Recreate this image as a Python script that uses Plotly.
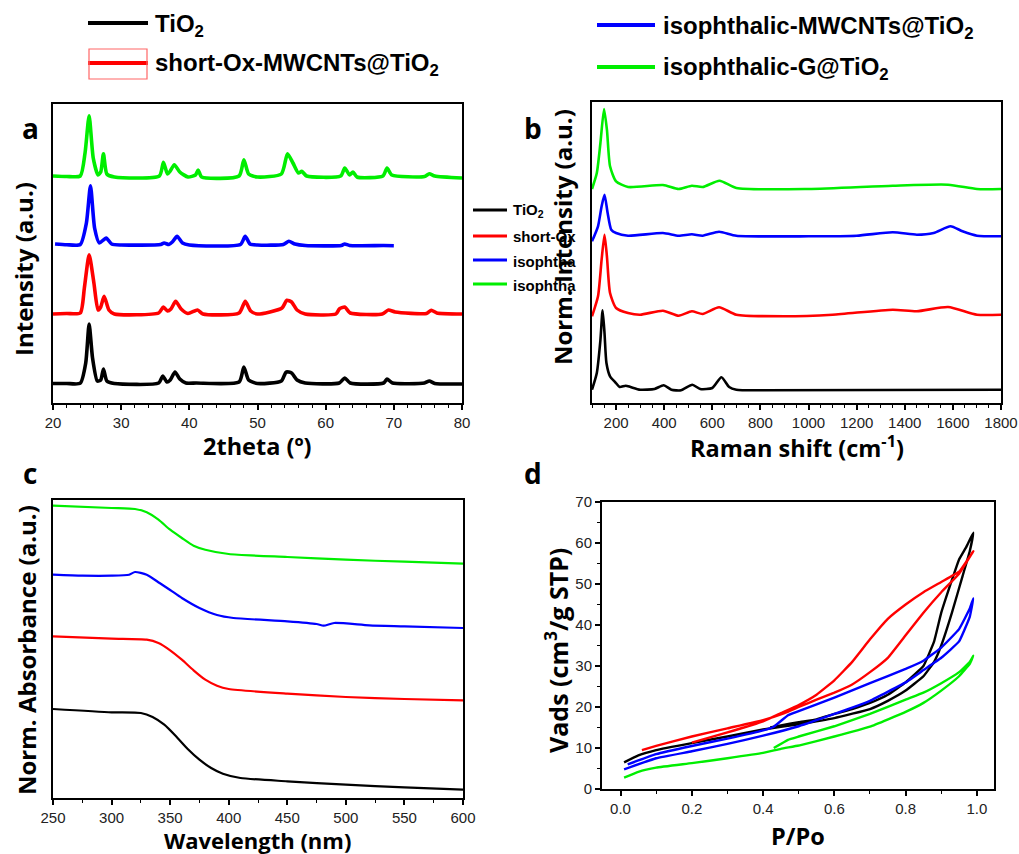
import plotly.graph_objects as go

W, H = 1019, 854

# ---------------- (a) XRD ----------------
xrd_x_black = [20, 22, 24, 24.8, 25.3, 25.8, 26.5, 27.0, 27.4, 27.9, 29, 35.5, 36.1, 36.7, 37.2, 37.9, 38.6, 39.5,
               41, 47.3, 48.0, 48.7, 50, 53.5, 54.2, 55.0, 55.8, 57, 62, 62.8, 63.6, 68.5, 69.0, 69.8, 74.5, 75.2, 76, 80]
xrd_y_black = [19.5, 19.5, 19.8, 40, 79, 45, 22, 23, 34, 22, 19.5, 20, 27, 21, 23, 31, 24, 20,
               20, 21, 36, 23, 19.5, 22, 31, 30, 23, 20, 20, 25, 20, 20, 24, 20, 20, 22, 19.5, 19]

xrd_x_red = [20, 22, 24, 24.6, 25.3, 26.0, 26.6, 27.0, 27.5, 28.2, 29, 35.5, 36.2, 36.8, 37.3, 38.0, 38.8, 39.8,
             41.2, 42, 47.3, 48.2, 49.0, 50, 53.6, 54.3, 55.0, 55.8, 57, 61.5, 62.0, 62.8, 63.6, 68.3, 69.2, 70.2,
             74.8, 75.5, 76.3, 80]
xrd_y_red = [89, 89.5, 90, 115, 148.3, 120, 93, 96, 106.7, 93, 89, 90, 96, 92, 94, 101.7, 94, 89.5,
             93, 89, 90, 101.7, 92, 89, 95, 102.7, 101, 93, 89, 89, 94, 96, 90, 89, 93, 91,
             89.5, 92.7, 90, 89]

xrd_x_blue = [20.3, 22, 24, 24.9, 25.5, 26.1, 26.8, 27.8, 28.6, 30, 35.8, 36.3, 37.0, 37.5, 38.2, 39.0, 40,
              47.5, 48.2, 48.9, 50, 53.8, 54.6, 55.5, 57, 62.3, 62.8, 63.5, 68.5, 70]
xrd_y_blue = [159, 158.3, 158.5, 180, 217.3, 175, 160, 165, 159, 158, 158.5, 160, 158.5, 161, 166.7, 160, 158,
              158.5, 166.7, 159, 158, 158.5, 161.7, 159, 157.5, 157.5, 159, 157.5, 157.5, 157.3]

xrd_x_green = [20, 22, 24, 24.7, 25.3, 25.9, 26.6, 27.0, 27.4, 27.9, 29, 35.6, 36.2, 36.8, 37.2, 37.8, 38.6, 39.8,
               40.9, 41.3, 41.8, 47.3, 48.0, 48.7, 50, 53.5, 54.4, 55.2, 56.0, 56.5, 57.2, 62.2, 62.8, 63.5, 64.0,
               64.6, 68.4, 69.0, 69.7, 74.5, 75.2, 76, 80]
xrd_y_green = [227, 226.5, 227, 250, 287.3, 245, 228, 231, 249.3, 229, 226, 227, 240.7, 229, 232, 238.3, 231, 226,
               228, 233, 226, 227, 243.3, 229, 226, 229, 249.3, 240, 230, 231.7, 227, 227, 235, 228, 231,
               226, 227, 235, 228, 226.5, 229.3, 227, 225]

# ---------------- (b) Raman ----------------
ram_x_black = [100, 120, 135, 144, 152, 160, 175, 197, 215, 240, 260, 300, 360, 398, 430, 470, 517, 550, 600, 638,
               670, 700, 800, 1800]
ram_y_black = [13.3, 30, 63, 92.7, 70, 40, 26.7, 20.7, 16, 17.3, 16, 13.3, 14, 17.7, 13.3, 12.7, 18.3, 14, 15,
               25.7, 16, 13.3, 12.7, 13.3]

ram_x_red = [100, 125, 140, 152, 162, 175, 200, 250, 300, 395, 460, 515, 560, 628, 700, 900, 1100, 1350, 1450,
             1580, 1700, 1800]
ram_y_red = [86.7, 106.7, 143.3, 168.3, 146.7, 110, 95, 90, 88.3, 92.3, 87.3, 91.7, 89, 95.7, 88.3, 86.7, 88.3,
             93.3, 91.7, 96, 88.3, 88.3]

ram_x_blue = [100, 125, 140, 152, 165, 180, 200, 250, 395, 460, 515, 560, 628, 700, 1000, 1200, 1350, 1450, 1520,
              1590, 1640, 1700, 1800]
ram_y_blue = [161.7, 176.7, 196.7, 208.3, 190, 173.3, 170, 167.3, 170, 167.3, 168.7, 167.3, 171.3, 167.3, 166.7,
              167.3, 170.7, 168.3, 170, 176.7, 171.7, 167.3, 166.7]

ram_x_green = [100, 120, 135, 150, 162, 175, 200, 250, 395, 460, 515, 560, 630, 700, 1000, 1350, 1580, 1700, 1800]
ram_y_green = [214, 230, 260, 294, 273.3, 236.7, 221.7, 216, 218, 214, 217.3, 216, 222.3, 215, 214, 217.3, 218.3,
               214, 214]

# ---------------- (c) UV-vis ----------------
uv_x_black = [250, 300, 325, 335, 345, 355, 365, 375, 385, 395, 410, 450, 500, 550, 600]
uv_y_black = [89, 85.7, 85, 81, 73.3, 61.7, 49, 38.3, 30, 24.3, 20, 16.7, 13.3, 10.7, 8.3]

uv_x_red = [250, 300, 330, 340, 350, 360, 370, 380, 390, 400, 450, 500, 550, 600]
uv_y_red = [161.7, 159.3, 158.3, 155, 147.7, 138.3, 127.7, 118.3, 112.3, 109, 104.3, 101, 99, 97.7]

uv_x_blue = [250, 275, 300, 315, 320, 330, 341, 350, 360, 375, 390, 404, 450, 475, 481, 490, 520, 550, 600]
uv_y_blue = [223.3, 222.3, 222.3, 223.3, 226, 223.3, 215, 208, 200, 190, 183, 180, 176.7, 174, 172.3, 175, 172.7,
             171.7, 170]

uv_x_green = [250, 300, 320, 330, 340, 350, 360, 370, 380, 400, 450, 500, 550, 600]
uv_y_green = [292.3, 290, 289, 285.7, 278.3, 268.3, 260, 252.3, 248.3, 244, 241, 238.3, 236.3, 234.3]

# ---------------- (d) N2 isotherms ----------------
bet_x_black = [0.01, 0.05, 0.1, 0.2, 0.3, 0.4, 0.5, 0.6, 0.7, 0.75, 0.8, 0.85, 0.88, 0.9, 0.93, 0.96, 0.98, 0.99,
               0.97, 0.95, 0.93, 0.9, 0.88, 0.85, 0.8, 0.75, 0.7, 0.65, 0.6, 0.55, 0.5, 0.45, 0.42]
bet_y_black = [6.5, 8.2, 9.5, 11.2, 12.8, 14.5, 15.8, 17.3, 19.5, 21.5, 24, 27.5, 31, 35, 43, 52, 58, 62.5,
               59, 56, 51, 43, 36, 30, 26, 23, 21, 19.5, 18.3, 17, 16.3, 15.5, 15]

bet_x_red = [0.06, 0.1, 0.2, 0.3, 0.4, 0.46, 0.5, 0.55, 0.6, 0.65, 0.7, 0.75, 0.8, 0.85, 0.9, 0.95, 0.99,
             0.95, 0.9, 0.85, 0.8, 0.75, 0.7, 0.65, 0.6, 0.55, 0.5, 0.45, 0.4, 0.3, 0.2]
bet_y_red = [9.5, 10.5, 12.8, 14.8, 16.8, 18.5, 20, 21.8, 23.5, 25.5, 28.5, 32, 37.5, 43, 48, 52.5, 58,
             53, 50.5, 48, 45, 41.5, 36.5, 31, 26.5, 23, 20.5, 18.5, 16.5, 13.8, 11.3]

bet_x_blue = [0.01, 0.1, 0.2, 0.3, 0.4, 0.5, 0.6, 0.7, 0.8, 0.85, 0.9, 0.95, 0.98, 0.99,
              0.98, 0.95, 0.9, 0.85, 0.8, 0.7, 0.6, 0.5, 0.47, 0.43, 0.4, 0.3, 0.2, 0.1, 0.02]
bet_y_blue = [4.8, 7.5, 9.2, 11, 13, 15.3, 18.3, 21.5, 26, 29, 32, 36, 42, 46.5,
              44, 39, 34.5, 31.3, 29.3, 25.8, 22.3, 19, 18, 15.2, 14.3, 12.3, 10.5, 8.5, 6]

bet_x_green = [0.01, 0.05, 0.1, 0.2, 0.3, 0.4, 0.45, 0.5, 0.6, 0.7, 0.8, 0.85, 0.9, 0.95, 0.98, 0.99,
               0.98, 0.95, 0.9, 0.85, 0.8, 0.7, 0.6, 0.5, 0.47, 0.43]
bet_y_green = [2.8, 4.2, 5.2, 6.3, 7.5, 8.8, 9.8, 10.6, 12.8, 15.2, 18.8, 21, 24, 27.5, 30.5, 32.5,
               31, 28.5, 25.8, 23.5, 21.8, 18.3, 15.3, 12.8, 12, 10]

series_names = ["TiO<sub>2</sub>", "short-Ox-MWCNTs@TiO<sub>2</sub>",
                "isophthalic-MWCNTs@TiO<sub>2</sub>", "isophthalic-G@TiO<sub>2</sub>"]
colors = ["#000000", "#ff0000", "#0000ff", "#00ee00"]


def px(x):
    return x / W


def py(y):
    return 1 - y / H


fig = go.Figure()

panels = [
    ("x", "y", [(xrd_x_black, xrd_y_black), (xrd_x_red, xrd_y_red), (xrd_x_blue, xrd_y_blue),
                (xrd_x_green, xrd_y_green)], 3.6, 0.6),
    ("x2", "y2", [(ram_x_black, ram_y_black), (ram_x_red, ram_y_red), (ram_x_blue, ram_y_blue),
                  (ram_x_green, ram_y_green)], 2.6, 0.6),
    ("x3", "y3", [(uv_x_black, uv_y_black), (uv_x_red, uv_y_red), (uv_x_blue, uv_y_blue),
                  (uv_x_green, uv_y_green)], 2.2, 0.6),
    ("x4", "y4", [(bet_x_black, bet_y_black), (bet_x_red, bet_y_red), (bet_x_blue, bet_y_blue),
                  (bet_x_green, bet_y_green)], 2.4, 0.3),
]
for xa, ya, data, lw, sm in panels:
    for i, (xs, ys) in enumerate(data):
        fig.add_trace(go.Scatter(x=xs, y=ys, mode="lines", xaxis=xa, yaxis=ya,
                                 line=dict(color=colors[i], width=lw, shape="spline", smoothing=sm),
                                 name=series_names[i], showlegend=False))

tickfont = dict(family="Liberation Sans, Arial", size=15, color="#222222")
minor_common = dict(ticks="outside", ticklen=3, tickcolor="black", tickwidth=1.3)


def xax(domain, rng, dtick, mdtick, anchor):
    return dict(domain=domain, range=rng, dtick=dtick, tick0=0, showline=True, linecolor="black", linewidth=2,
                mirror=True, ticks="outside", ticklen=5, tickwidth=1.5, tickcolor="black", showgrid=False,
                zeroline=False, tickfont=tickfont, anchor=anchor, automargin=False,
                minor=dict(dtick=mdtick, tick0=0, **minor_common))


def yax(domain, rng, anchor, labels=False):
    d = dict(domain=domain, range=rng, showline=True, linecolor="black", linewidth=2, mirror=True,
             showgrid=False, zeroline=False, anchor=anchor, automargin=False)
    if labels:
        d.update(ticks="outside", ticklen=5, tickwidth=1.5, tickcolor="black", dtick=10, tickfont=tickfont,
                 minor=dict(dtick=5, **minor_common))
    else:
        d.update(showticklabels=False, ticks="")
    return d


layout = dict(
    width=W, height=H, margin=dict(l=0, r=0, t=0, b=0, pad=0, autoexpand=False),
    paper_bgcolor="white", plot_bgcolor="white", showlegend=False,
    xaxis=xax([px(53), px(462)], [20, 80], 10, 2, "y"),
    yaxis=yax([py(403), py(104)], [0, 299], "x"),
    xaxis2=xax([px(592), px(1001)], [100, 1800], 200, 50, "y2"),
    yaxis2=yax([py(403), py(102)], [0, 301], "x2"),
    xaxis3=xax([px(53), px(463)], [250, 600], 50, 25, "y3"),
    yaxis3=yax([py(798), py(500)], [0, 298], "x3"),
    xaxis4=xax([px(602), px(994)], [-0.052, 1.048], 0.2, 0.1, "y4"),
    yaxis4=yax([py(789), py(502)], [0, 70], "x4", labels=True),
)
layout["xaxis4"]["tickformat"] = ".1f"
fig.update_layout(**layout)

ann = []


def text(x, y, t, size=22, angle=0, xanchor="center", family="Open Sans", bold=True, color="black"):
    ann.append(dict(x=px(x), y=py(y), xref="paper", yref="paper", text=("<b>%s</b>" % t) if bold else t,
                    showarrow=False, textangle=angle, xanchor=xanchor, yanchor="middle", borderpad=0,
                    font=dict(family=family, size=size, color=color)))


# clipped legend inside panel b area (drawn under the y title)
small_items = ["TiO<sub>2</sub>", "short-Ox", "isophtha", "isophtha"]
small_y = [210, 236, 260, 284]
shapes = []
for i, (t, yy) in enumerate(zip(small_items, small_y)):
    shapes.append(dict(type="line", xref="paper", yref="paper", x0=px(473), x1=px(507), y0=py(yy), y1=py(yy),
                       line=dict(color=colors[i], width=3)))
    text(512, yy + 1, t, size=15, xanchor="left", family="Liberation Sans, Arial")

# axis titles
text(257, 446, "2theta (º)", size=23.5)
text(23, 269, "Intensity (a.u.)", size=24, angle=-90)
text(797, 446, "Raman shift (cm<sup>-1</sup>)", size=23.5)
text(563, 237, "Norm. Intensity (a.u.)", size=24, angle=-90)
text(257, 840, "Wavelength (nm)", size=22)
text(26, 650, "Norm. Absorbance (a.u.)", size=24, angle=-90)
text(798, 836, "P/Po", size=23.5)
text(556, 651, "Vads (cm<sup>3</sup>/g STP)", size=25, angle=-90)

# panel letters
for lab, (lx, ly) in zip("abcd", [(30, 128), (533, 128), (30, 473), (533, 473)]):
    text(lx, ly, lab, size=28)

# top legend
leg = [(88, 148, 23, 154, 0), (88, 148, 63, 154, 1), (597, 655, 25, 662, 2), (597, 655, 67, 662, 3)]
for x0, x1, yy, tx, i in leg:
    shapes.append(dict(type="line", xref="paper", yref="paper", x0=px(x0), x1=px(x1), y0=py(yy), y1=py(yy),
                       line=dict(color=colors[i], width=4)))
    text(tx, yy + 2, series_names[i], size=24, xanchor="left", family="Liberation Sans, Arial")
shapes.append(dict(type="rect", xref="paper", yref="paper", x0=px(89), x1=px(147), y0=py(79), y1=py(49),
                   line=dict(color="#ff6666", width=1.2)))

fig.update_layout(annotations=ann, shapes=shapes)
fig.write_html("out.html")
